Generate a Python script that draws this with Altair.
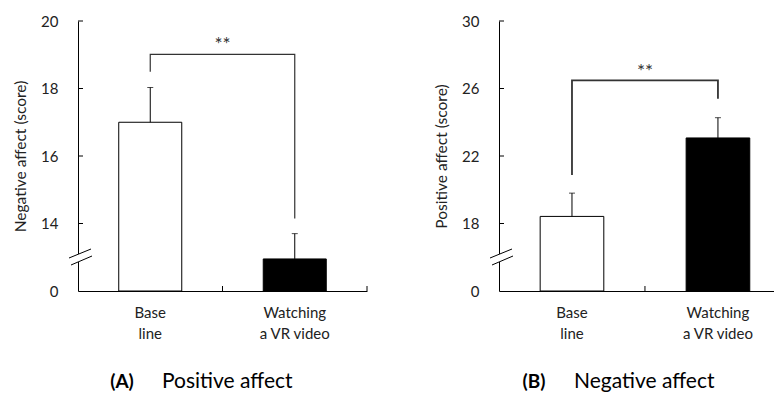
import altair as alt
import pandas as pd

# ---- data ----
categories = ["Base\nline", "Watching\na VR video"]
cat_pos = [0.5, 1.5]

a_mean = [17.0, 12.95]
a_err = [18.03, 13.7]
a_ticks = [12, 14, 16, 18, 20]
a_bracket_x = [0.5, 0.5, 1.5, 1.5]
a_bracket_y = [18.5, 19.01, 19.01, 14.15]
a_star_y = 19.3

b_mean = [18.42, 23.07]
b_err = [19.8, 24.27]
b_ticks = [14, 18, 22, 26, 30]
b_bracket_x = [0.5, 0.5, 1.5, 1.5]
b_bracket_y = [20.87, 26.48, 26.48, 25.4]
b_star_y = 27.0

FONT = "Lato"
H = 270
BAR_HALF = 0.218


def panel(means, errs, ticks, bx, by, star_y, ytitle, xmax, width, bounds, lab, name, bw):
    ymin, ymax = ticks[0], ticks[-1]
    xs = alt.Scale(domain=[0, xmax], nice=False, zero=False)
    ys = alt.Scale(domain=[ymin, ymax], nice=False, zero=False)
    df = pd.DataFrame({"pos": cat_pos, "cat": categories, "mean": means, "err": errs})
    base = alt.Chart(df)

    bars = base.transform_calculate(
        x0=f"datum.pos - {BAR_HALF}", x1=f"datum.pos + {BAR_HALF}"
    ).mark_bar(stroke="black", strokeWidth=1).encode(
        x=alt.X("x0:Q", scale=xs,
                axis=alt.Axis(title=None, labels=False, ticks=False, grid=False,
                              domainColor="black", domainWidth=1)),
        x2="x1:Q",
        y=alt.Y("mean:Q", scale=ys,
                axis=alt.Axis(title=ytitle, values=ticks, grid=False, ticks=False,
                              labelExpr=f"datum.value == {ymin} ? '0' : datum.label",
                              labelPadding=20, labelFont=FONT, labelFontSize=15,
                              labelColor="#222", titleFont=FONT, titleFontSize=15.5,
                              titleFontWeight="normal", titleColor="#222",
                              titlePadding=12, domainColor="black", domainWidth=1)),
        y2=alt.datum(ymin),
        fill=alt.Fill("cat:N", scale=alt.Scale(domain=categories, range=["white", "black"]),
                      legend=None),
    )

    err_line = base.mark_rule(color="black", strokeWidth=1).encode(
        x=alt.X("pos:Q", scale=xs), y=alt.Y("mean:Q", scale=ys), y2="err:Q")
    err_cap = base.mark_tick(color="black", orient="horizontal", size=6, thickness=1).encode(
        x=alt.X("pos:Q", scale=xs), y=alt.Y("err:Q", scale=ys))

    bdf = pd.DataFrame({"x": bx, "y": by, "i": list(range(len(bx)))})
    bracket = alt.Chart(bdf).mark_line(color="#333", strokeWidth=bw).encode(
        x=alt.X("x:Q", scale=xs), y=alt.Y("y:Q", scale=ys), order="i:O")
    star = alt.Chart(pd.DataFrame({"x": [1.0], "y": [star_y], "t": ["**"]})).mark_text(
        font=FONT, fontSize=19, color="#333", baseline="middle").encode(
        x=alt.X("x:Q", scale=xs), y=alt.Y("y:Q", scale=ys), text="t:N")

    # inward y ticks
    ytk = alt.Chart(pd.DataFrame({"v": ticks[1:]})).mark_rule(color="black").encode(
        y=alt.Y("v:Q", scale=ys), x=alt.value(0), x2=alt.value(5))
    # inward x ticks at category boundaries
    xtk = alt.Chart(pd.DataFrame({"b": bounds})).mark_rule(color="black").encode(
        x=alt.X("b:Q", scale=xs), y=alt.value(H), y2=alt.value(H - 5))

    # axis break symbol
    gap = alt.Chart(pd.DataFrame({"k": [0]})).mark_rule(color="white", strokeWidth=3).encode(
        x=alt.value(0), y=alt.value(H - 37), y2=alt.value(H - 29))
    s1 = alt.Chart(pd.DataFrame({"k": [0]})).mark_rule(color="black", strokeWidth=1).encode(
        x=alt.value(-9), y=alt.value(H - 33), x2=alt.value(13), y2=alt.value(H - 42))
    s2 = alt.Chart(pd.DataFrame({"k": [0]})).mark_rule(color="black", strokeWidth=1).encode(
        x=alt.value(-7), y=alt.value(H - 26), x2=alt.value(14), y2=alt.value(H - 35))

    catlab = base.mark_text(font=FONT, fontSize=15, color="#222", lineBreak="\n",
                            lineHeight=21, baseline="middle").encode(
        x=alt.X("pos:Q", scale=xs), y=alt.value(H + 22), text="cat:N")

    lab_b = alt.Chart(pd.DataFrame({"t": [lab[0]]})).mark_text(
        font=FONT, fontSize=19, fontWeight="bold", color="black", baseline="middle").encode(
        x=alt.value(lab[2]), y=alt.value(H + 91), text="t:N")
    lab_t = alt.Chart(pd.DataFrame({"t": [lab[1]]})).mark_text(
        font=FONT, fontSize=21, color="black", baseline="middle", align="left").encode(
        x=alt.value(lab[3]), y=alt.value(H + 91), text="t:N")

    return alt.layer(bars, err_line, err_cap, bracket, star, ytk, xtk, gap, s1, s2,
                     catlab, lab_b, lab_t).properties(width=width, height=H, name=name)


pa = panel(a_mean, a_err, a_ticks, a_bracket_x, a_bracket_y, a_star_y,
           "Negative affect (score)", 2, 289, [1, 2], ["(A)", "Positive affect", 44, 84], "A", 1.2)
pb = panel(b_mean, b_err, b_ticks, b_bracket_x, b_bracket_y, b_star_y,
           "Positive affect (score)", 1.884, 275, [1], ["(B)", "Negative affect", 35, 75], "B", 1.8)

chart = alt.hconcat(pa, pb, spacing=66).properties(
    padding={"left": 5, "top": 6, "right": 0, "bottom": 0}
).configure_view(stroke=None)

chart.save("out.html", embed_options={"renderer": "svg", "actions": False})
